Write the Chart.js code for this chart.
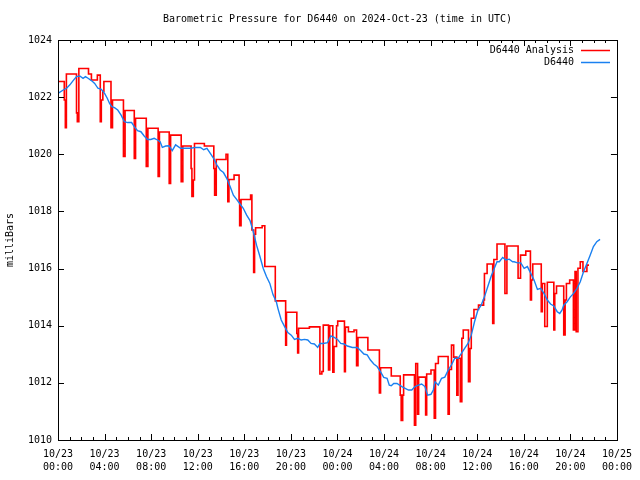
<!DOCTYPE html>
<html><head><meta charset="utf-8">
<script src="https://cdn.jsdelivr.net/npm/chart.js@4/dist/chart.umd.min.js"></script>
<style>html,body{margin:0;padding:0;background:#fff;overflow:hidden}</style>
</head><body>
<canvas id="c" width="640" height="480"></canvas>
<script>
const chartTitle = "Barometric Pressure for D6440 on 2024-Oct-23 (time in UTC)";
const yAxisTitle = "milliBars";
const seriesNames = ["D6440 Analysis", "D6440"];
const xTickLabels = [
  ["10/23","00:00"],["10/23","04:00"],["10/23","08:00"],["10/23","12:00"],
  ["10/23","16:00"],["10/23","20:00"],["10/24","00:00"],["10/24","04:00"],
  ["10/24","08:00"],["10/24","12:00"],["10/24","16:00"],["10/24","20:00"],
  ["10/25","00:00"]
];
// hours since 2024-10-23 00:00 UTC
const analysisHours = [
  0.00,0.54,0.63,0.72,1.59,1.66,1.79,2.62,2.87,3.38,3.63,3.72,3.85,3.94,4.55,4.68,
  5.62,5.76,6.55,6.66,7.58,7.72,8.60,8.71,9.55,9.67,10.58,10.72,11.43,11.50,11.62,11.72,
  12.57,13.38,13.45,13.59,14.43,14.58,14.68,15.12,15.55,15.60,15.72,16.54,16.65,16.80,
  16.88,16.97,17.53,17.76,18.66,19.55,19.62,20.51,20.58,20.66,21.59,22.49,22.66,22.78,
  23.23,23.34,23.60,23.70,23.92,24.02,24.60,24.68,24.94,25.42,25.64,25.76,26.61,27.60,
  27.70,28.62,29.39,29.47,29.60,29.68,30.61,30.72,30.88,30.97,31.57,31.66,32.03,32.31,
  32.42,32.66,33.50,33.60,33.79,33.98,34.25,34.35,34.55,34.68,34.80,35.25,35.38,35.49,
  35.72,36.11,36.55,36.62,36.85,37.33,37.43,37.70,38.38,38.55,39.51,39.72,40.17,40.57,
  40.66,40.77,41.50,41.59,41.80,42.02,42.58,42.66,42.81,43.43,43.55,43.66,43.94,44.26,
  44.40,44.50,44.65,44.85,45.08,45.42,45.60
];
const analysisValues = [
  1022.55,1021.90,1020.93,1022.81,1021.45,1021.14,1023.00,1022.81,1022.60,1022.77,1021.14,1021.90,1022.20,1022.55,1020.93,1021.90,
  1019.92,1021.53,1019.85,1021.26,1019.57,1020.91,1019.22,1020.78,1018.98,1020.67,1019.04,1020.29,1019.50,1018.52,1019.10,1020.38,
  1020.29,1019.50,1018.57,1019.82,1020.00,1018.34,1019.12,1019.27,1018.40,1017.50,1018.42,1018.57,1017.35,1015.86,
  1017.20,1017.43,1017.50,1016.07,1014.87,1013.32,1014.47,1013.73,1013.05,1013.91,1013.96,1012.31,1012.40,1014.02,
  1012.45,1014.00,1012.37,1013.27,1014.00,1014.16,1012.39,1013.95,1013.79,1013.85,1012.60,1013.59,1013.15,1011.65,
  1012.53,1012.24,1011.57,1010.68,1011.57,1012.28,1010.52,1012.68,1010.90,1012.20,1010.88,1012.31,1012.45,1010.76,
  1012.68,1012.92,1010.90,1012.47,1013.32,1012.90,1011.57,1012.86,1011.34,1013.56,1013.85,1012.04,1013.20,1014.26,
  1014.57,1014.72,1014.90,1015.83,1016.16,1014.08,1016.32,1016.86,1015.13,1016.79,1015.66,1016.47,1016.61,1014.90,
  1015.60,1016.16,1014.49,1015.48,1013.97,1015.52,1013.85,1015.13,1015.39,1013.68,1014.90,1015.48,1015.60,1013.85,
  1015.90,1013.79,1016.01,1016.24,1015.90,1016.12,1016.12
];
const obsHours = [
  0.00,0.45,0.74,1.02,1.30,1.59,1.87,2.15,2.36,2.58,2.87,3.15,3.43,3.72,4.00,4.23,4.43,4.62,4.85,5.13,
  5.42,5.70,5.98,6.32,6.55,6.83,7.12,7.40,7.69,7.97,8.26,8.54,8.77,8.96,9.25,9.53,9.81,10.10,10.53,10.95,
  11.38,11.80,12.23,12.51,12.79,13.08,13.36,13.64,13.93,14.21,14.49,14.78,15.06,15.34,15.63,15.91,16.20,16.49,16.77,17.05,
  17.34,17.62,17.90,18.19,18.47,18.75,18.89,19.17,19.46,19.74,20.03,20.31,20.60,20.88,21.17,21.45,21.73,22.02,22.30,22.49,
  22.78,23.15,23.43,23.72,24.00,24.28,24.57,24.85,25.28,25.70,25.98,26.27,26.55,26.83,27.12,27.40,27.69,27.97,28.26,28.45,
  28.62,28.83,29.11,29.53,29.81,30.10,30.38,30.66,30.95,31.23,31.51,31.74,32.03,32.23,32.37,32.66,32.94,33.22,33.51,33.79,
  34.07,34.36,34.64,34.92,35.21,35.49,35.77,36.06,36.34,36.62,36.91,37.19,37.47,37.70,37.90,38.19,38.47,38.75,39.04,39.17,
  39.46,39.74,40.03,40.31,40.60,40.88,41.17,41.45,41.73,42.02,42.30,42.58,42.87,43.09,43.29,43.43,43.72,44.00,44.28,44.57,
  44.85,45.13,45.42,45.70,45.98,46.27,46.55
];
const obsValues = [
  1022.13,1022.25,1022.31,1022.43,1022.58,1022.72,1022.74,1022.66,1022.72,1022.66,1022.58,1022.48,1022.31,1022.27,1022.13,1021.96,1021.78,1021.67,1021.63,1021.55,
  1021.37,1021.14,1021.11,1021.11,1020.97,1020.83,1020.79,1020.64,1020.52,1020.52,1020.56,1020.50,1020.44,1020.24,1020.29,1020.30,1020.13,1020.33,1020.21,1020.21,
  1020.21,1020.24,1020.24,1020.16,1020.21,1020.03,1019.86,1019.63,1019.45,1019.36,1019.16,1018.87,1018.57,1018.42,1018.26,1018.11,1017.87,1017.68,1017.29,1016.82,
  1016.42,1016.01,1015.72,1015.48,1015.08,1014.84,1014.60,1014.20,1013.97,1013.76,1013.67,1013.52,1013.56,1013.50,1013.52,1013.50,1013.38,1013.36,1013.24,1013.38,
  1013.38,1013.41,1013.64,1013.59,1013.52,1013.38,1013.36,1013.29,1013.24,1013.24,1013.13,1013.01,1012.98,1012.80,1012.66,1012.57,1012.39,1012.19,1012.16,1011.92,
  1011.90,1011.98,1011.98,1011.87,1011.81,1011.75,1011.75,1011.87,1011.92,1011.96,1011.87,1011.57,1011.60,1011.75,1012.04,1011.92,1012.16,1012.20,1012.45,1012.63,
  1012.86,1012.86,1013.03,1013.21,1013.38,1013.67,1014.14,1014.55,1014.72,1015.01,1015.37,1015.72,1016.01,1016.24,1016.24,1016.39,1016.30,1016.33,1016.24,1016.24,
  1016.20,1016.20,1016.01,1016.07,1015.83,1015.60,1015.27,1015.31,1015.13,1014.90,1014.76,1014.69,1014.49,1014.43,1014.55,1014.72,1014.84,1015.01,1015.13,1015.31,
  1015.54,1015.89,1016.18,1016.47,1016.77,1016.94,1017.02
];

const FONT = "DejaVu Sans Mono";
const toXY = (xs, ys) => xs.map((x, i) => ({x: x, y: ys[i]}));

const decorPlugin = {
  id: 'decor',
  afterDraw(chart) {
    const ctx = chart.ctx, a = chart.chartArea;
    const xs = chart.scales.x, ys = chart.scales.y;
    ctx.save();
    ctx.strokeStyle = '#000';
    ctx.lineWidth = 1;
    ctx.beginPath();
    for (let h = xs.min; h <= xs.max; h += 1) {
      const px = Math.round(xs.getPixelForValue(h)) + 0.5;
      const len = (h % 4 === 0) ? 6 : 3;
      ctx.moveTo(px, a.bottom); ctx.lineTo(px, a.bottom - len);
      ctx.moveTo(px, a.top); ctx.lineTo(px, a.top + len);
    }
    for (let v = ys.min; v <= ys.max; v += 2) {
      const py = Math.round(ys.getPixelForValue(v)) + 0.5;
      ctx.moveTo(a.left, py); ctx.lineTo(a.left + 6, py);
      ctx.moveTo(a.right, py); ctx.lineTo(a.right - 6, py);
    }
    ctx.stroke();
    ctx.strokeRect(Math.round(a.left) + 0.5, Math.round(a.top) + 0.5,
                   Math.round(a.right - a.left), Math.round(a.bottom - a.top));
    ctx.fillStyle = '#000';
    ctx.font = '10px "' + FONT + '"';
    ctx.textAlign = 'center';
    ctx.textBaseline = 'middle';
    ctx.fillText(chartTitle, (a.left + a.right) / 2, 19);
    ctx.textAlign = 'right';
    chart.data.datasets.forEach((ds, i) => {
      const y = 50 + i * 12;
      ctx.fillStyle = '#000';
      ctx.fillText(ds.label, 574, y);
      ctx.strokeStyle = ds.borderColor;
      ctx.lineWidth = 1.5;
      ctx.beginPath();
      ctx.moveTo(581, y + 0.5); ctx.lineTo(610, y + 0.5);
      ctx.stroke();
    });
    ctx.restore();
  }
};

new Chart(document.getElementById('c'), {
  type: 'line',
  data: {
    datasets: [
      { label: seriesNames[0], data: toXY(analysisHours, analysisValues),
        borderColor: '#ff0000', borderWidth: 1.6, pointRadius: 0,
        stepped: 'before', fill: false, order: 1 },
      { label: seriesNames[1], data: toXY(obsHours, obsValues),
        borderColor: '#1a80f0', borderWidth: 1.4, pointRadius: 0,
        tension: 0, fill: false, order: 0 }
    ]
  },
  options: {
    responsive: false,
    animation: false,
    events: [],
    layout: { padding: { left: 0, right: 18, top: 40, bottom: 0 } },
    plugins: { legend: { display: false }, title: { display: false }, tooltip: { enabled: false } },
    scales: {
      x: {
        type: 'linear', min: 0, max: 48,
        grid: { display: false, drawTicks: false },
        border: { display: false },
        ticks: {
          stepSize: 4, autoSkip: false, maxRotation: 0, padding: 8,
          color: '#000', font: { family: FONT, size: 10, lineHeight: 1.3 },
          callback: (v, i) => xTickLabels[i]
        },
        afterFit: (s) => { s.height = 40; }
      },
      y: {
        min: 1010, max: 1024,
        grid: { display: false, drawTicks: false },
        border: { display: false },
        ticks: { stepSize: 2, padding: 6, color: '#000', font: { family: FONT, size: 10 },
                 callback: (v) => String(v) },
        title: { display: true, text: yAxisTitle, color: '#000', font: { family: FONT, size: 10 }, padding: { top: 4, bottom: 0 } },
        afterFit: (s) => { s.width = 58; }
      }
    }
  },
  plugins: [decorPlugin]
});
</script>
</body></html>
